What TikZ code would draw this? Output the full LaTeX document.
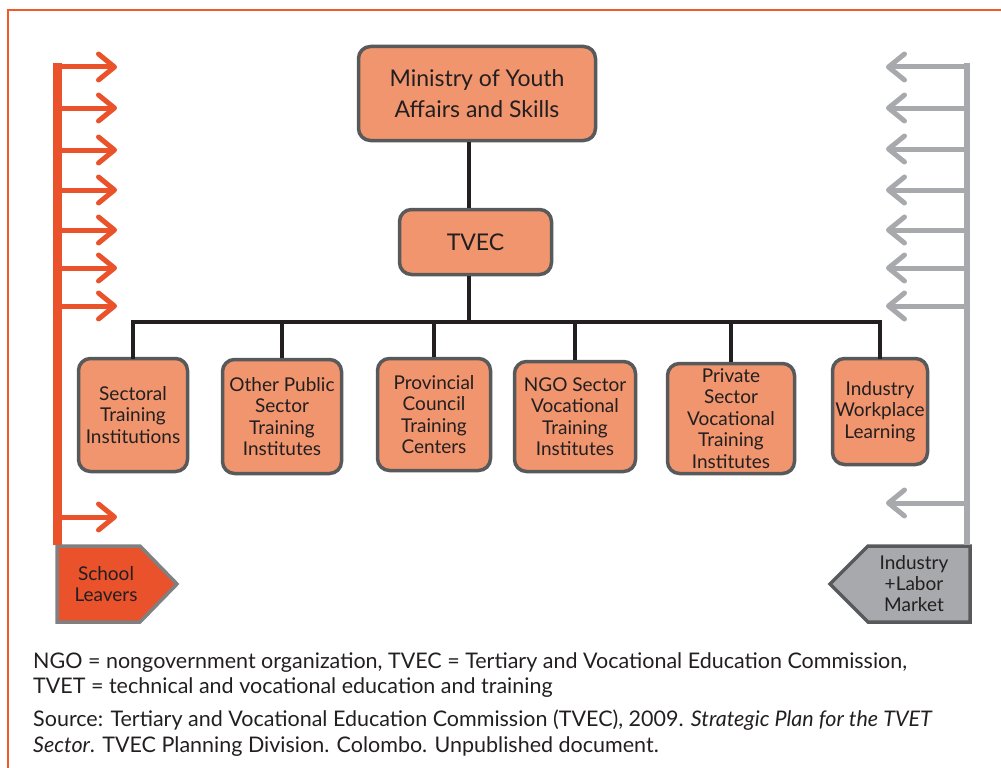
\documentclass[tikz,border=0pt]{standalone}
\usepackage{fontspec}
\setmainfont{Lato}
\usetikzlibrary{arrows.meta}
\definecolor{frameor}{RGB}{240,90,40}
\definecolor{busor}{RGB}{233,82,43}
\definecolor{boxfill}{RGB}{240,149,109}
\definecolor{boxline}{RGB}{88,89,91}
\definecolor{greybus}{RGB}{167,169,172}
\definecolor{slline}{RGB}{128,128,128}
\definecolor{txt}{RGB}{35,31,32}
\begin{document}
\begin{tikzpicture}[x=1pt,y=-1pt,
  box/.style={draw=boxline, line width=3.5pt, fill=boxfill, rounded corners=12pt,
    align=center, text=txt, inner sep=0pt, font=\fontsize{19}{21.5}\selectfont},
  bigbox/.style={box, font=\fontsize{23}{31}\selectfont},
  link/.style={draw=txt, line width=4pt},
  orarrow/.style={draw=busor, line width=5pt, -{Straight Barb[length=16pt,width=26pt,round]}},
  grarrow/.style={draw=greybus, line width=5pt, -{Straight Barb[length=16pt,width=26pt,round]}},
  sigtext/.style={align=center, text=txt, inner sep=0pt, font=\fontsize{19}{21}\selectfont},
  foot/.style={text=txt, inner sep=0pt, font=\fontsize{21.5}{25}\selectfont}]
\useasboundingbox (0,0) rectangle (1001,768);
% frame
\draw[frameor, line width=1.5pt] (8,770) -- (8,10) -- (1003,10);

% top boxes
\node[bigbox, minimum width=237, minimum height=94] (min) at (477,93.5) {Ministry of Youth\\Affairs and Skills};
\node[bigbox, minimum width=152, minimum height=65] (tvec) at (475.5,242) {TVEC};
\coordinate (trunk) at (469,322);

% bottom boxes
\node[box, minimum width=109, minimum height=113] (b1) at (133,415) {Sectoral\\Training\\Institutions};
\node[box, minimum width=119, minimum height=114] (b2) at (282,416.5) {Other Public\\Sector\\Training\\Institutes};
\node[box, minimum width=113, minimum height=112] (b3) at (434,414.5) {Provincial\\Council\\Training\\Centers};
\node[box, minimum width=121, minimum height=110] (b4) at (575,416.5) {NGO Sector\\Vocational\\Training\\Institutes};
\node[box, minimum width=127, minimum height=110] (b5) at (731,418.5) {Private\\Sector\\Vocational\\Training\\Institutes};
\node[box, minimum width=95, minimum height=106] (b6) at (880,411.5) {Industry\\Workplace\\Learning};

% connectors
\draw[link] (min.south -| trunk) -- (tvec.north -| trunk);
\draw[link] (tvec.south -| trunk) -- (trunk);
\draw[link, line cap=rect] (b1.north) |- (trunk) -| (b6.north);
\foreach \b in {b2,b3,b4,b5} \draw[link] (\b.north) -- (\b.north |- trunk);

% left: school leavers
\draw[line width=3.5pt, draw=slline, fill=busor, line join=miter]
  (57,546) -- (140,546) -- (177,584) -- (140,622) -- (57,622) -- cycle;
\node[sigtext] (sl) at (106,584) {School\\Leavers};
\coordinate (ltop) at (57,63);
\coordinate (lbot) at (57,545);
\draw[draw=busor, line width=9pt] (ltop) -- (lbot);
\foreach \y [count=\i] in {67,108,150,190,230,268,306,517}{
  \coordinate (la\i) at (117,\y);
  \draw[orarrow] (ltop |- la\i) ++(-4,0) -- (la\i);
}

% right: industry + labor market
\draw[line width=3.5pt, draw=boxline, fill=greybus, line join=miter]
  (970,546) -- (868,546) -- (830,584) -- (868,622) -- (970,622) -- cycle;
\node[sigtext] (il) at (914,584) {Industry\\+Labor\\Market};
\coordinate (rtop) at (967,63);
\coordinate (rbot) at (967,545);
\draw[draw=greybus, line width=6pt] (rtop) -- (rbot);
\foreach \y [count=\i] in {67,108,149,190,230,268,306,503}{
  \coordinate (ra\i) at (886,\y);
  \draw[grarrow] (rtop |- ra\i) ++(3,0) -- (ra\i);
}

% footnotes
\node[foot, anchor=base west] (f1) at (33,668) {NGO = nongovernment organization, TVEC = Tertiary and Vocational Education Commission,};
\node[foot, anchor=base west] (f2) at (33,693) {TVET = technical and vocational education and training};
\node[foot, anchor=base west] (f3) at (33,726) {Source: Tertiary and Vocational Education Commission (TVEC), 2009. \textit{Strategic Plan for the TVET}};
\node[foot, anchor=base west] (f4) at (33,752) {\textit{Sector}. TVEC Planning Division. Colombo. Unpublished document.};
\end{tikzpicture}
\end{document}
